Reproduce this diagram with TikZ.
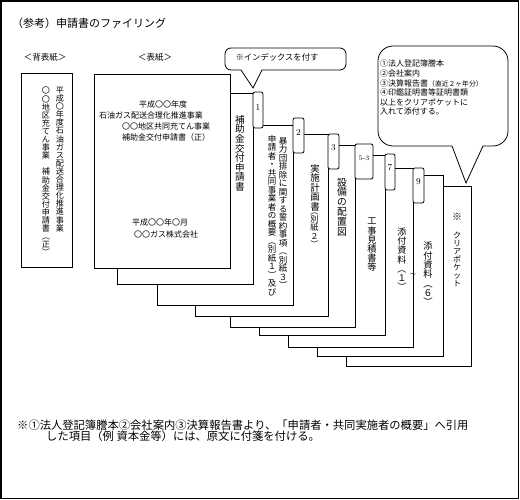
\documentclass[tikz,border=0pt]{standalone}
\usepackage{fontspec}
\newfontfamily\jp{Noto Sans CJK JP}
\usetikzlibrary{positioning}

% stacked (vertical) Japanese text, one character per line
\ExplSyntaxOn
\NewDocumentCommand \tate { m }
  {
    \vbox:n
      {
        \skip_set:Nn \baselineskip { 1em }
        \dim_set:Nn \lineskiplimit { -\maxdimen }
        \tl_map_inline:nn {#1} { \hbox_to_wd:nn { 1em } { \hss ##1 \hss } }
      }
  }
\ExplSyntaxOff

\begin{document}
\begin{tikzpicture}[
    x = 1pt, y = -1pt,
    sheet/.style = {draw, fill=white, line width=.8pt, inner sep=0, outer sep=0, anchor=north west},
    tabbox/.style = {draw, fill=white, line width=.8pt, rounded corners=2pt, inner sep=0, outer sep=0, anchor=north west},
    tabnum/.style = {inner sep=0, font=\fontsize{9}{9}\selectfont},
    bubble/.style = {draw, fill=white, line width=.8pt, inner sep=0, outer sep=0, anchor=north west},
    jtext/.style = {inner sep=0, font=\jp\fontsize{#1}{#1}\selectfont},
    vtext/.style = {inner sep=0, anchor=north, font=\jp\fontsize{#1}{#1}\selectfont},
  ]
  \useasboundingbox (0,0) rectangle (520,500);
  \draw[line width=1.2pt] (1,1) rectangle (518.5,498.5);

  \node[jtext=11, anchor=west] (title) at (12,23) {（参考）申請書のファイリング};
  \node[jtext=8.5] (backlbl) at (45,57) {＜背表紙＞};
  \node[jtext=8.5] (frontlbl) at (155,57) {＜表紙＞};

  % back cover
  \node[sheet, minimum width=51pt, minimum height=194pt] (back) at (21,73) {};
  \node[vtext=8.1] (back1) at (60,87) {\tate{平成〇年度石油ガス配送合理化推進事業}};
  \node[vtext=8.1] (back2) at (46,87) {\tate{〇〇地区充てん事業　補助金交付申請書︵正︶}};

  % sheets, back to front
  \node[sheet, minimum width=125pt, minimum height=180pt] (s9) at (346,186) {};
  \node[sheet, minimum width=126pt, minimum height=181pt] (s8) at (317,175) {};
  \node[sheet, minimum width=125pt, minimum height=179pt] (s7) at (288,168) {};
  \node[tabbox, minimum width=11pt, minimum height=35pt] (tab9) at (413,168) {};
  \node[tabnum, below=10pt of tab9.north] (n9) {9};
  \node[sheet, minimum width=126pt, minimum height=180pt] (s6) at (259,155) {};
  \node[tabbox, minimum width=10pt, minimum height=36pt] (tab7) at (385,154) {};
  \node[tabnum, below=10pt of tab7.north] (n7) {7};
  \node[sheet, minimum width=125pt, minimum height=182pt] (s5) at (230,145) {};
  \node[tabbox, minimum width=18pt, minimum height=35pt] (tab53) at (355,144) {};
  \node[tabnum, font=\fontsize{7}{7}\selectfont, below=12pt of tab53.north] (n53) {5-3};
  \node[sheet, minimum width=133pt, minimum height=182pt] (s4) at (195,134) {};
  \node[tabbox, minimum width=11pt, minimum height=35pt] (tab3) at (328,134) {};
  \node[tabnum, below=10pt of tab3.north] (n3) {3};
  \node[sheet, minimum width=136pt, minimum height=180pt] (s3) at (157,125) {};
  \node[tabbox, minimum width=11pt, minimum height=35pt] (tab2) at (293,118) {};
  \node[tabnum, below=11pt of tab2.north] (n2) {2};
  \node[sheet, minimum width=136pt, minimum height=191pt] (s2) at (117,93) {};
  \node[tabbox, minimum width=10pt, minimum height=36pt] (tab1) at (253,92) {};
  \node[tabnum, below=12pt of tab1.north] (n1) {1};
  \node[sheet, minimum width=136pt, minimum height=194pt] (s1) at (94,74) {};

  % cover
  \node[jtext=8] (c1) at (163,104) {平成〇〇年度};
  \node[jtext=8] (c2) at (151,115) {石油ガス配送合理化推進事業};
  \node[jtext=8] (c3) at (166,126) {〇〇地区共同充てん事業};
  \node[jtext=8] (c4) at (166,137) {補助金交付申請書（正）};
  \node[jtext=8] (c5) at (160,222) {平成〇〇年〇月};
  \node[jtext=8] (c6) at (166,234) {〇〇ガス株式会社};

  % sheet titles
  \node[vtext=9.6] (t2) at (240,115) {\tate{補助金交付申請書}};
  \node[vtext=8.5] (t3a) at (272,135) {\tate{申請者・共同事業者の概要︵別紙１︶及び}};
  \node[vtext=8.5] (t3b) at (283,137) {\tate{暴力団排除に関する誓約事項︵別紙３︶}};
  \node[vtext=9.5] (t4) at (315,164)
    {\vbox{\tate{実施計画書}\kern1pt{\fontsize{8.2}{8.2}\selectfont\tate{︵別紙２︶}}}};
  \node[vtext=9.8] (t5) at (342,178) {\tate{設備の配置図}};
  \node[vtext=9.2] (t6) at (372,218) {\tate{工事見積書等}};
  \node[vtext=9.1] (t7) at (402,228) {\tate{添付資料︵１︶}};
  \node[jtext=6] (gap) at (413,275) {～};
  \node[vtext=9.3] (t8) at (428,242) {\tate{添付資料︵６︶}};
  \node[jtext=10] (t9a) at (457,217) {※};
  \node[vtext=8] (t9b) at (457,232) {\tate{クリアポケット}};

  % callouts
  \node[bubble, rounded corners=6pt, minimum width=121pt, minimum height=22pt] (idx) at (225,48) {};
  \fill[white] ([shift={(16pt,1pt)}]idx.south west) -- ([yshift=4pt]tab1.north west) -- ([shift={(37pt,1pt)}]idx.south west) -- cycle;
  \draw[line width=.8pt] ([xshift=16pt]idx.south west) -- ([yshift=4pt]tab1.north west) -- ([xshift=37pt]idx.south west);
  \node[jtext=8.3] (idxtxt) at (277,57) {※インデックスを付す};

  \node[bubble, rounded corners=15pt, minimum width=130pt, minimum height=100pt] (docs) at (378,46) {};
  \fill[white] ([shift={(74pt,1pt)}]docs.south west) -- ([shift={(-5pt,3pt)}]s9.north east) -- ([shift={(105pt,1pt)}]docs.south west) -- cycle;
  \draw[line width=.8pt] ([xshift=74pt]docs.south west) -- ([shift={(-5pt,3pt)}]s9.north east) -- ([xshift=105pt]docs.south west);
  \node[inner sep=0, anchor=north west, align=left, font=\jp\fontsize{8}{9.6}\selectfont] (docstxt) at (380,60)
    {①法人登記簿謄本\\②会社案内\\③決算報告書{\fontsize{6.8}{9.6}\selectfont（直近２ヶ年分）}\\④印鑑証明書等証明書類\\以上をクリアポケットに\\入れて添付する。};

  % note
  \node[jtext=11.3, anchor=west] (note1) at (17,425) {※①法人登記簿謄本②会社案内③決算報告書より、「申請者・共同実施者の概要」へ引用};
  \node[jtext=11.3, anchor=west] (note2) at (46,436) {した項目（例 資本金等）には、原文に付箋を付ける。};
\end{tikzpicture}
\end{document}
